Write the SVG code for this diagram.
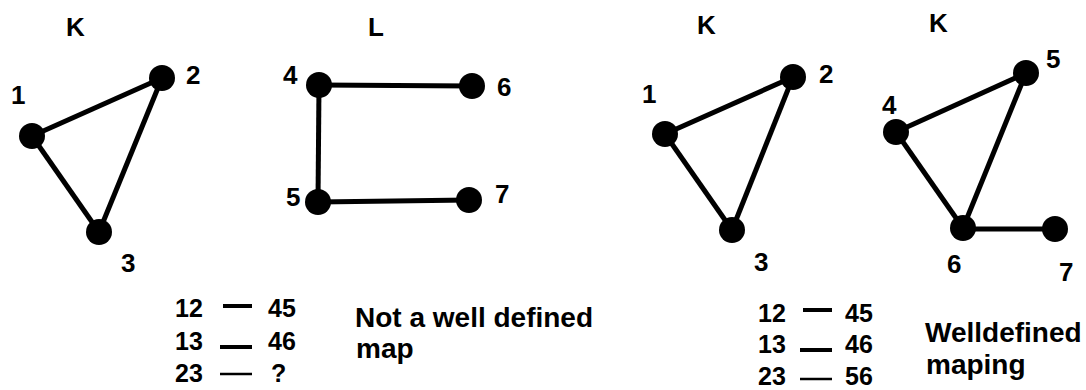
<svg xmlns="http://www.w3.org/2000/svg" width="1086" height="390" viewBox="0 0 1086 390">
  <style>
    .t { font-family: "Liberation Sans", Arial, sans-serif; font-weight: bold; fill: #000; }
    .lbl { font-size: 26px; }
    .num { font-size: 25px; }
    .txt { font-size: 28px; }
    .edge { stroke: #000; stroke-width: 5; fill: none; }
    .node { fill: #000; }
    .dash { stroke: #000; stroke-width: 4; }
    .dash-thin { stroke: #000; stroke-width: 2.5; }
  </style>
  <rect width="1086" height="390" fill="#fff"/>

  <!-- graph titles -->
  <text class="t lbl" x="66" y="36">K</text>
  <text class="t lbl" x="368" y="36">L</text>
  <text class="t lbl" x="697" y="34">K</text>
  <text class="t lbl" x="929" y="32">K</text>

  <!-- connectors -->
  <g id="connectors">
    <!-- K (left) -->
    <line class="edge" x1="32" y1="136" x2="162" y2="78"/>
    <line class="edge" x1="32" y1="136" x2="99" y2="232"/>
    <line class="edge" x1="162" y1="78" x2="99" y2="232"/>
    <!-- L -->
    <line class="edge" x1="319" y1="85" x2="472" y2="86"/>
    <line class="edge" x1="319" y1="85" x2="318" y2="202"/>
    <line class="edge" x1="318" y1="202" x2="469" y2="200"/>
    <!-- K (middle) -->
    <line class="edge" x1="665" y1="134" x2="793" y2="77"/>
    <line class="edge" x1="665" y1="134" x2="732" y2="230"/>
    <line class="edge" x1="793" y1="77" x2="732" y2="230"/>
    <!-- K (right) -->
    <line class="edge" x1="896" y1="132" x2="1026" y2="73"/>
    <line class="edge" x1="896" y1="132" x2="963" y2="228"/>
    <line class="edge" x1="1026" y1="73" x2="963" y2="228"/>
    <line class="edge" x1="963" y1="229" x2="1055" y2="229"/>
  </g>

  <!-- left K nodes -->
  <g id="k1-1"><circle class="node" cx="32" cy="136" r="13"/><text class="t lbl" x="11" y="104">1</text></g>
  <g id="k1-2"><circle class="node" cx="162" cy="78" r="13"/><text class="t lbl" x="186" y="84">2</text></g>
  <g id="k1-3"><circle class="node" cx="99" cy="232" r="13"/><text class="t lbl" x="121" y="272">3</text></g>

  <!-- L nodes -->
  <g id="l-4"><circle class="node" cx="319" cy="85" r="13"/><text class="t lbl" x="283" y="84">4</text></g>
  <g id="l-6"><circle class="node" cx="472" cy="86" r="13"/><text class="t lbl" x="497" y="96">6</text></g>
  <g id="l-5"><circle class="node" cx="318" cy="202" r="13"/><text class="t lbl" x="286" y="206">5</text></g>
  <g id="l-7"><circle class="node" cx="469" cy="200" r="13"/><text class="t lbl" x="495" y="203">7</text></g>

  <!-- middle K nodes -->
  <g id="k2-1"><circle class="node" cx="665" cy="134" r="13"/><text class="t lbl" x="642" y="103">1</text></g>
  <g id="k2-2"><circle class="node" cx="793" cy="77" r="13"/><text class="t lbl" x="819" y="83">2</text></g>
  <g id="k2-3"><circle class="node" cx="732" cy="230" r="13"/><text class="t lbl" x="754" y="271">3</text></g>

  <!-- right K nodes -->
  <g id="k3-4"><circle class="node" cx="896" cy="132" r="13"/><text class="t lbl" x="882" y="114">4</text></g>
  <g id="k3-5"><circle class="node" cx="1026" cy="73" r="13"/><text class="t lbl" x="1046" y="68">5</text></g>
  <g id="k3-6"><circle class="node" cx="963" cy="228" r="13"/><text class="t lbl" x="947" y="273">6</text></g>
  <g id="k3-7"><circle class="node" cx="1055" cy="229" r="13"/><text class="t lbl" x="1059" y="281">7</text></g>

  <!-- left mapping table -->
  <g id="map-left">
    <text class="t num" x="175" y="317">12</text>
    <line class="dash" x1="223" y1="306" x2="252" y2="306"/>
    <text class="t num" x="268" y="317">45</text>
    <text class="t num" x="175" y="350">13</text>
    <line class="dash" x1="220" y1="347" x2="252" y2="347"/>
    <text class="t num" x="268" y="350">46</text>
    <text class="t num" x="175" y="382">23</text>
    <line class="dash-thin" x1="220" y1="374" x2="252" y2="374"/>
    <text class="t num" x="271" y="382">?</text>
    <text class="t txt" x="355" y="327">Not a well defined</text>
    <text class="t txt" x="356" y="358">map</text>
  </g>

  <!-- right mapping table -->
  <g id="map-right">
    <text class="t num" x="758" y="322">12</text>
    <line class="dash" x1="803" y1="310" x2="832" y2="310"/>
    <text class="t num" x="845" y="322">45</text>
    <text class="t num" x="758" y="353">13</text>
    <line class="dash" x1="800" y1="350" x2="832" y2="350"/>
    <text class="t num" x="845" y="353">46</text>
    <text class="t num" x="758" y="385">23</text>
    <line class="dash-thin" x1="800" y1="379" x2="832" y2="379"/>
    <text class="t num" x="845" y="385">56</text>
    <text class="t txt" x="925" y="342">Welldefined</text>
    <text class="t txt" x="926" y="374">maping</text>
  </g>
</svg>
